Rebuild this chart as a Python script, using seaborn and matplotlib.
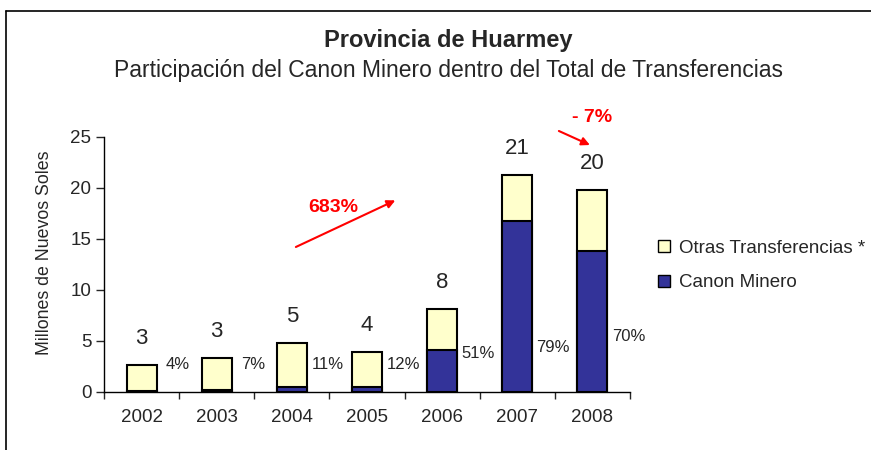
import numpy as np
import pandas as pd
import matplotlib.pyplot as plt
import seaborn as sns

# data
years = ['2002', '2003', '2004', '2005', '2006', '2007', '2008']
total = [2.65, 3.3, 4.8, 3.9, 8.1, 21.3, 19.8]
canon = [0.1, 0.23, 0.53, 0.47, 4.1, 16.8, 13.8]
total_labels = ['3', '3', '5', '4', '8', '21', '20']
pct_labels = ['4%', '7%', '11%', '12%', '51%', '79%', '70%']
pct_label_y = [2.7, 2.7, 2.7, 2.7, 3.8, 4.4, 5.4]

df = pd.DataFrame({'year': years, 'total': total, 'canon': canon})

sns.set_style("white")
plt.rcParams['font.family'] = ['Liberation Sans', 'DejaVu Sans']

c_otras = '#FFFFCC'
c_canon = '#333399'

fig = plt.figure(figsize=(8.71, 4.5), dpi=100)
ax = fig.add_axes([0.1194, 0.1289, 0.6039, 0.5667])

sns.barplot(data=df, x='year', y='total', color=c_otras, width=0.4,
            edgecolor='black', linewidth=1.5, saturation=1, ax=ax)
sns.barplot(data=df, x='year', y='canon', color=c_canon, width=0.4,
            edgecolor='black', linewidth=1.5, saturation=1, ax=ax)

ax.set_xlim(-0.5, 6.5)
ax.set_ylim(0, 25)
ax.set_yticks(range(0, 26, 5))
ax.tick_params(axis='y', labelsize=13.5, length=6, width=1, direction='out', left=True, pad=3)
ax.tick_params(axis='x', which='major', labelsize=13.5, length=0, pad=12)
ax.set_xticks(np.arange(-0.5, 7, 1), minor=True)
ax.tick_params(axis='x', which='minor', length=5, width=1, direction='out', bottom=True)
ax.set_xlabel('')
ax.set_ylabel('Millones de Nuevos Soles', fontsize=12.8)
ax.yaxis.set_label_coords(-0.097, 0.545)
for s in ['top', 'right']:
    ax.spines[s].set_visible(False)
for s in ['left', 'bottom']:
    ax.spines[s].set_color('black')
    ax.spines[s].set_linewidth(1)

# totals above bars and share of canon on the right side
for i, (t, lab) in enumerate(zip(total, total_labels)):
    ax.text(i, t + 2.6, lab, ha='center', va='center', fontsize=16)
for i, (lab, y) in enumerate(zip(pct_labels, pct_label_y)):
    ax.text(i + 0.48, y, lab, ha='center', va='center', fontsize=12)

# growth arrows
ax.annotate('', xy=(3.41, 18.9), xytext=(2.02, 14.1), annotation_clip=False,
            arrowprops=dict(arrowstyle='-|>', color='red', lw=1.5, mutation_scale=12))
ax.text(2.55, 18.1, '683%', color='red', fontsize=14, fontweight='bold',
        ha='center', va='center')
ax.annotate('', xy=(6.0, 24.1), xytext=(5.52, 25.7), annotation_clip=False,
            arrowprops=dict(arrowstyle='-|>', color='red', lw=1.5, mutation_scale=12))
ax.text(6.0, 26.9, '- 7%', color='red', fontsize=14, fontweight='bold',
        ha='center', va='center', clip_on=False)

# legend
handles = [plt.Rectangle((0, 0), 1, 1, facecolor=c_otras, edgecolor='black', lw=1),
           plt.Rectangle((0, 0), 1, 1, facecolor=c_canon, edgecolor='black', lw=1)]
fig.legend(handles, ['Otras Transferencias *', 'Canon Minero'], loc='upper left',
           bbox_to_anchor=(0.736, 0.505), frameon=False, fontsize=13.5,
           handlelength=0.65, handleheight=0.65, handletextpad=0.45, labelspacing=0.95)

fig.text(0.515, 0.91, 'Provincia de Huarmey', ha='center', va='center',
         fontsize=17, fontweight='bold')
fig.text(0.515, 0.843, 'Participación del Canon Minero dentro del Total de Transferencias',
         ha='center', va='center', fontsize=16.5)

# outer frame
fig.add_artist(plt.Line2D([6 / 871, 1], [1 - 11 / 450, 1 - 11 / 450], color='black', lw=1.2))
fig.add_artist(plt.Line2D([6 / 871, 6 / 871], [0, 1 - 11 / 450], color='black', lw=1.2))

fig.savefig('out.png', dpi=100)
